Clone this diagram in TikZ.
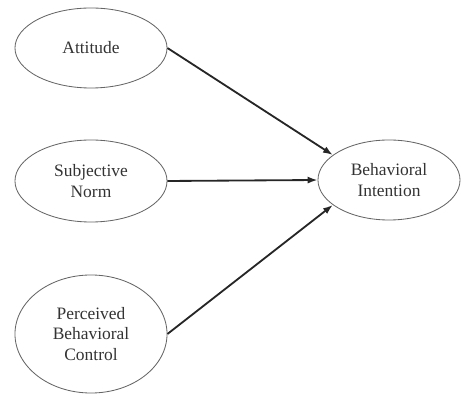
\documentclass[tikz,border=0pt]{standalone}
\usepackage{fontspec}
\setmainfont{Liberation Serif}
\usetikzlibrary{shapes.geometric,arrows.meta}
\begin{document}
\begin{tikzpicture}[x=0.025cm,y=0.025cm,
    construct/.style={ellipse,draw=black!60,line width=0.6pt,inner sep=0pt,
      align=center,text=black!80,font=\fontsize{12.4}{14.4}\selectfont},
    path/.style={-{Latex[length=7pt,width=5pt]},draw=black!85,line width=1.3pt}]
  \useasboundingbox (0,0) rectangle (461,394);
  \node[construct,minimum width=3.8cm,minimum height=2cm] (att) at (91,346) {Attitude};
  \node[construct,minimum width=3.8cm,minimum height=2.05cm] (sn) at (91,213) {Subjective\\Norm};
  \node[construct,minimum width=3.8cm,minimum height=2.95cm] (pbc) at (91,60) {Perceived\\Behavioral\\Control};
  \node[construct,minimum width=3.55cm,minimum height=2cm] (bi) at (389,214) {Behavioral\\Intention};
  \draw[path] (att.east) -- (bi.156);
  \draw[path] (sn.east) -- (bi.west);
  \draw[path] (pbc.east) -- (bi.204);
\end{tikzpicture}
\end{document}
